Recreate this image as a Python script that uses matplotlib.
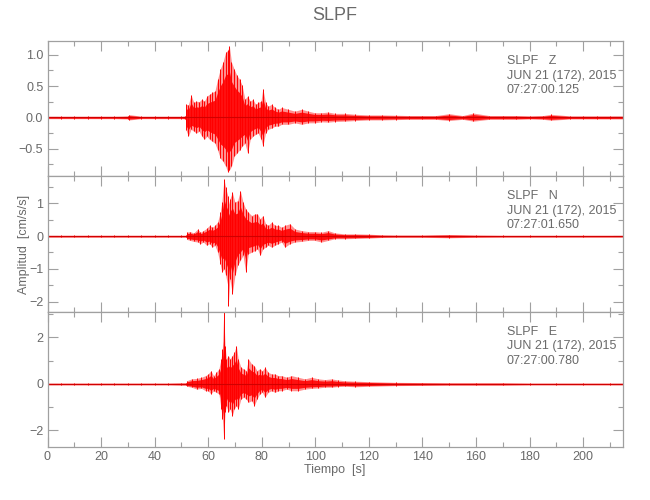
import numpy as np
import matplotlib
matplotlib.use('Agg')
import matplotlib.pyplot as plt
from matplotlib.ticker import MultipleLocator

plt.rcParams['font.family'] = ['Liberation Sans', 'DejaVu Sans']

# Envelope of each trace (upper / lower peak per time step)
t_z = [0, 5, 10, 15, 20, 25, 30, 30.5, 35, 40,
       45, 50, 51.5, 51.7, 52.6, 53.6, 54.6, 55.6, 56.6, 57.6,
       58.6, 59.5, 60.5, 61.5, 62.5, 63.5, 64.5, 65.5, 66.5, 67.3,
       67.9, 68.7, 69.7, 70.7, 71.7, 72.7, 73.7, 74.7, 75.7, 76.7,
       77.7, 78.7, 79.7, 80.4, 81.4, 82.4, 83.7, 84.9, 86.2, 87.4,
       89.9, 92.4, 94.9, 97.4, 99.8, 102.3, 104.8, 107.3, 111, 115,
       120, 125, 130, 135, 140, 145, 150, 155, 159, 165,
       170, 175, 180, 185, 188, 195, 200, 205, 210, 215]
up_z = [0.02, 0.02, 0.02, 0.02, 0.02, 0.02, 0.025, 0.045, 0.02, 0.02,
        0.02, 0.02, 0.025, 0.21, 0.20, 0.36, 0.24, 0.26, 0.25, 0.29,
        0.26, 0.34, 0.37, 0.40, 0.42, 0.61, 0.77, 0.88, 1.04, 1.07,
        1.14, 0.88, 0.77, 0.67, 0.61, 0.51, 0.29, 0.34, 0.26, 0.29,
        0.21, 0.24, 0.26, 0.46, 0.24, 0.18, 0.21, 0.16, 0.13, 0.16,
        0.13, 0.10, 0.13, 0.10, 0.075, 0.075, 0.086, 0.065, 0.065, 0.05,
        0.04, 0.04, 0.035, 0.03, 0.03, 0.03, 0.06, 0.03, 0.07, 0.03,
        0.03, 0.03, 0.025, 0.03, 0.05, 0.025, 0.025, 0.025, 0.025, 0.025]
lo_z = [-0.02, -0.02, -0.02, -0.02, -0.02, -0.02, -0.025, -0.04, -0.02, -0.02,
        -0.02, -0.02, -0.025, -0.20, -0.30, -0.19, -0.22, -0.25, -0.22, -0.30,
        -0.35, -0.30, -0.35, -0.38, -0.41, -0.52, -0.65, -0.70, -0.78, -0.87,
        -0.84, -0.78, -0.62, -0.57, -0.52, -0.46, -0.41, -0.57, -0.35, -0.30,
        -0.27, -0.25, -0.35, -0.46, -0.25, -0.19, -0.17, -0.14, -0.14, -0.11,
        -0.11, -0.086, -0.11, -0.086, -0.086, -0.07, -0.075, -0.065, -0.06, -0.05,
        -0.04, -0.04, -0.035, -0.03, -0.03, -0.03, -0.05, -0.03, -0.06, -0.03,
        -0.03, -0.03, -0.025, -0.03, -0.045, -0.025, -0.025, -0.025, -0.025, -0.025]

t_n = [0, 5, 10, 15, 20, 25, 30, 35, 40, 45,
       50, 51.8, 52, 53.2, 54.6, 56.1, 57.1, 58.2, 59.4, 60.5,
       61.5, 62.5, 63.5, 64.5, 65.1, 65.9, 66.5, 67.3, 67.5, 68.1,
       69, 70, 71, 72, 73, 74, 75, 76.2, 77.5, 78.4,
       79.4, 80.4, 81.4, 82.4, 83.7, 84.9, 86.2, 87.4, 88.6, 90.5,
       92.4, 94.9, 97.4, 99.8, 102.3, 104.8, 107.3, 111, 115, 120,
       125, 130, 140, 150, 160, 170, 180, 190, 200, 215]
up_n = [0.03, 0.03, 0.03, 0.03, 0.03, 0.03, 0.03, 0.03, 0.03, 0.03,
        0.03, 0.03, 0.12, 0.14, 0.10, 0.22, 0.12, 0.17, 0.24, 0.33,
        0.27, 0.33, 0.43, 0.73, 1.04, 1.75, 1.49, 1.24, 0.95, 1.14,
        1.34, 1.04, 1.09, 1.39, 1.04, 0.83, 0.73, 0.63, 0.68, 0.68,
        0.53, 0.63, 0.38, 0.33, 0.43, 0.33, 0.33, 0.27, 0.33, 0.38,
        0.22, 0.17, 0.14, 0.14, 0.12, 0.17, 0.10, 0.07, 0.07, 0.06,
        0.04, 0.035, 0.035, 0.05, 0.035, 0.03, 0.03, 0.03, 0.03, 0.03]
lo_n = [-0.03, -0.03, -0.03, -0.03, -0.03, -0.03, -0.03, -0.03, -0.03, -0.03,
        -0.03, -0.03, -0.10, -0.13, -0.16, -0.18, -0.23, -0.18, -0.28, -0.23,
        -0.34, -0.28, -0.49, -0.85, -1.10, -1.00, -1.20, -1.50, -2.13, -1.30,
        -1.76, -1.20, -0.89, -0.74, -0.59, -1.10, -0.54, -0.49, -0.44, -0.39,
        -0.59, -0.39, -0.34, -0.28, -0.34, -0.28, -0.23, -0.18, -0.34, -0.23,
        -0.18, -0.16, -0.13, -0.13, -0.18, -0.13, -0.08, -0.08, -0.07, -0.06,
        -0.04, -0.035, -0.035, -0.05, -0.035, -0.03, -0.03, -0.03, -0.03, -0.03]

t_e = [0, 5, 10, 15, 20, 25, 30, 35, 40, 45,
       50, 51.8, 52, 53.8, 55.7, 57.5, 59, 60, 61, 62,
       63, 64, 64.8, 65.3, 65.8, 66.3, 66.8, 67.5, 68.2, 69,
       69.7, 70.5, 71.2, 72.2, 73.2, 74.2, 75, 76.2, 77.2, 78.2,
       79.2, 80.2, 81.2, 82.4, 83.7, 84.9, 86.2, 87.4, 89.3, 91.1,
       93.6, 96.1, 98.6, 101.1, 103.6, 106.1, 108.5, 111, 115, 120,
       130, 140, 150, 160, 170, 180, 190, 200, 210, 215]
up_e = [0.04, 0.04, 0.04, 0.04, 0.04, 0.04, 0.04, 0.04, 0.04, 0.04,
        0.05, 0.05, 0.14, 0.22, 0.24, 0.29, 0.36, 0.43, 0.57, 0.36,
        0.50, 0.65, 1.08, 1.51, 3.08, 1.65, 1.08, 1.22, 1.08, 1.22,
        1.36, 1.65, 1.08, 0.72, 0.65, 0.57, 1.08, 0.86, 0.79, 0.57,
        0.65, 0.57, 0.72, 0.50, 0.43, 0.43, 0.36, 0.36, 0.29, 0.36,
        0.29, 0.22, 0.29, 0.22, 0.19, 0.22, 0.17, 0.14, 0.12, 0.10,
        0.07, 0.06, 0.05, 0.05, 0.05, 0.04, 0.04, 0.04, 0.04, 0.04]
lo_e = [-0.04, -0.04, -0.04, -0.04, -0.04, -0.04, -0.04, -0.04, -0.04, -0.04,
        -0.05, -0.05, -0.10, -0.14, -0.22, -0.19, -0.29, -0.29, -0.43, -0.29,
        -0.36, -0.43, -1.08, -1.51, -2.37, -1.22, -0.93, -1.22, -1.08, -1.36,
        -1.08, -0.93, -1.08, -0.65, -0.57, -0.65, -0.79, -0.72, -0.93, -0.65,
        -0.43, -0.36, -0.57, -0.36, -0.29, -0.36, -0.29, -0.29, -0.22, -0.29,
        -0.29, -0.22, -0.19, -0.17, -0.14, -0.14, -0.11, -0.10, -0.12, -0.10,
        -0.07, -0.06, -0.05, -0.05, -0.05, -0.04, -0.04, -0.04, -0.04, -0.04]

labels = ['SLPF   Z', 'SLPF   N', 'SLPF   E']
start_times = ['07:27:00.125', '07:27:01.650', '07:27:00.780']
date_text = 'JUN 21 (172), 2015'

traces = [(t_z, up_z, lo_z), (t_n, up_n, lo_n), (t_e, up_e, lo_e)]
ylims = [(-0.94, 1.22), (-2.31, 1.83), (-2.71, 3.11)]
y_major = [0.5, 1, 2]
y_minor = [0.25, 0.5, 1]

GRAY = '#6a6a6a'
FRAME = '#a0a0a0'

fig = plt.figure(figsize=(6.5, 5), dpi=100)
left, right = 47.5 / 650, 623.3 / 650
top, bottom = 1 - 41 / 500, 1 - 447 / 500
h = (top - bottom) / 3

for i, (t, up, lo) in enumerate(traces):
    ax = fig.add_axes([left, top - (i + 1) * h, right - left, h])
    t = np.asarray(t)
    up = np.asarray(up)
    lo = np.asarray(lo)

    # pale outer envelope, saturated core, then vertical strokes per sample
    ax.fill_between(t, lo, up, color='#ff9090', lw=0)
    ax.fill_between(t, 0.65 * lo, 0.65 * up, color='#ff1010', lw=0)
    ax.vlines(t, lo, up, color='red', lw=0.7)
    ax.plot(t, np.zeros_like(t), color='#d00000', lw=0.8)

    ax.set_xlim(0, 215)
    ax.set_ylim(*ylims[i])
    ax.xaxis.set_major_locator(MultipleLocator(20))
    ax.xaxis.set_minor_locator(MultipleLocator(10))
    ax.yaxis.set_major_locator(MultipleLocator(y_major[i]))
    ax.yaxis.set_minor_locator(MultipleLocator(y_minor[i]))
    ax.tick_params(which='both', direction='in', top=True, right=True,
                   color=FRAME, labelcolor=GRAY, labelsize=9, pad=3)
    ax.tick_params(which='major', length=7, width=0.8)
    ax.tick_params(which='minor', length=3.5, width=0.8)
    for sp in ax.spines.values():
        sp.set_color(FRAME)
        sp.set_linewidth(0.9)
    if i < 2:
        ax.tick_params(labelbottom=False)

    # header text
    lines = [labels[i], date_text, start_times[i]]
    for k, s in enumerate(lines):
        ax.text(0.798, 1 - (20 + 14.5 * k) / 135.3, s, transform=ax.transAxes,
                ha='left', va='center', color=GRAY, fontsize=9)

fig.text(335 / 650, 1 - 15 / 500, 'SLPF', ha='center', va='center',
         color=GRAY, fontsize=13)
fig.text(335 / 650, 1 - 470 / 500, 'Tiempo  [s]', ha='center', va='center',
         color=GRAY, fontsize=9)
fig.text(24 / 650, 1 - 244 / 500, 'Amplitud  [cm/s/s]', rotation=90,
         ha='center', va='center', color=GRAY, fontsize=9)

fig.savefig('out.png', dpi=100)
